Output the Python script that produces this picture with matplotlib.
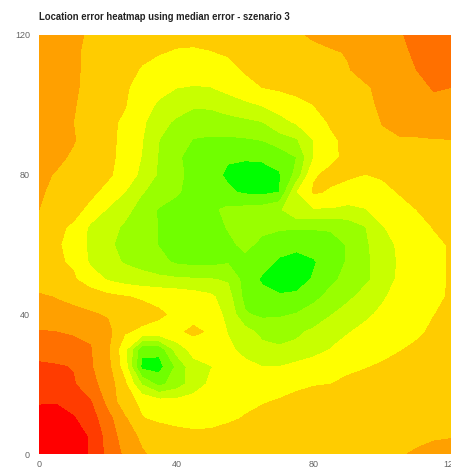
"""Location error heatmap (median error), szenario 3."""
import numpy as np
import matplotlib
matplotlib.use("Agg")
import matplotlib.pyplot as plt

plt.rcParams["font.family"] = ["Liberation Sans", "DejaVu Sans"]

TITLE = "Location error heatmap using median error - szenario 3"
TICKS = [0, 40, 80, 120]

# grid positions of the error values, one row per y, top row first
GRID_X = list(range(0, 125, 5))
GRID_Y = list(range(120, -5, -5))

ROW_120 = [6.5,6.4,6.15,5.9,5.7,5.6,5.5,5.4,5.3,5.3,5.35,5.45,5.5,5.6,5.75,5.9,6.1,6.3,6.5,6.6,6.75,6.95,7.15,7.35,7.45]
ROW_115 = [6.5,6.4,6.1,5.85,5.65,5.5,5.25,5.05,4.9,4.85,4.95,5.1,5.25,5.4,5.55,5.7,5.8,5.9,6.05,6.35,6.6,6.85,7.1,7.35,7.5]
ROW_110 = [6.5,6.4,6.1,5.85,5.6,5.35,4.9,4.6,4.45,4.4,4.45,4.65,5.1,5.25,5.4,5.55,5.7,5.8,5.95,6.25,6.5,6.8,7.0,7.3,7.5]
ROW_105 = [6.45,6.4,6.1,5.8,5.5,5.1,4.7,4.3,4.02,3.95,3.98,4.3,4.6,5.0,5.15,5.3,5.45,5.6,5.75,5.9,6.2,6.5,6.8,7.05,7.0]
ROW_100 = [6.4,6.35,6.05,5.75,5.4,5.05,4.4,3.85,3.4,3.1,3.15,3.5,3.8,4.05,4.35,4.7,5.0,5.25,5.6,5.85,6.1,6.4,6.7,6.85,6.85]
ROW_95 = [6.35,6.3,6.0,5.7,5.2,4.85,4.2,3.3,2.85,2.6,2.55,2.6,2.75,2.95,3.7,4.1,4.6,5.1,5.35,5.7,6.02,6.3,6.5,6.7,6.7]
ROW_90 = [6.3,6.25,6.05,5.65,5.2,4.8,4.05,3.0,2.5,1.95,1.85,1.85,1.9,2.03,2.5,2.9,4.0,4.85,5.2,5.6,5.9,5.92,5.9,5.95,5.98]
ROW_85 = [6.25,6.15,5.9,5.6,5.2,4.75,3.95,2.9,2.15,1.65,1.35,1.1,1.1,1.15,1.4,2.0,4.0,4.8,5.2,5.45,5.6,5.65,5.6,5.6,5.6]
ROW_80 = [6.15,5.95,5.75,5.5,5.15,4.6,3.75,2.85,2.2,1.75,1.3,0.85,0.6,0.6,0.9,2.3,4.9,5.2,5.15,4.98,5.1,5.3,5.35,5.4,5.4]
ROW_75 = [6.05,5.9,5.6,5.2,4.7,4.0,3.05,2.65,2.1,1.7,1.45,1.15,0.85,0.75,1.0,3.95,5.1,4.9,4.6,4.55,4.75,5.05,5.2,5.3,5.3]
ROW_70 = [6.0,5.7,5.3,4.75,3.9,3.3,2.6,1.9,1.7,1.6,1.8,2.2,2.3,2.4,2.8,3.95,3.9,3.9,3.75,3.95,4.35,4.7,5.0,5.2,5.3]
ROW_65 = [5.6,5.2,4.85,3.8,3.35,2.85,2.4,1.95,1.6,1.45,1.6,2.05,2.2,2.2,2.15,2.1,2.1,2.1,2.4,2.95,3.95,4.3,4.6,5.05,5.2]
ROW_60 = [5.4,5.15,4.6,3.8,3.15,2.75,2.35,1.95,1.55,1.35,1.4,1.8,2.2,1.8,1.4,1.25,1.4,1.7,2.05,2.85,3.5,4.2,4.45,4.75,5.1]
ROW_55 = [5.3,5.1,4.9,3.85,3.35,2.9,2.6,2.25,1.85,1.7,1.7,1.9,1.75,1.4,0.85,0.65,0.9,1.5,2.1,2.75,3.5,4.1,4.4,4.7,5.1]
ROW_50 = [5.4,5.3,5.1,4.5,3.9,3.6,3.4,3.25,3.15,3.1,3.05,2.9,1.6,0.85,0.55,0.55,1.1,1.75,2.35,2.8,3.4,4.2,4.4,4.7,5.1]
ROW_45 = [6.15,5.95,5.75,5.5,5.25,5.05,4.9,4.8,4.7,4.5,4.2,3.4,1.7,1.35,1.1,1.2,1.7,2.35,2.8,3.35,3.9,4.3,4.55,4.8,5.1]
ROW_40 = [6.5,6.35,6.25,6.1,5.9,5.6,5.35,5.1,4.85,4.65,4.4,3.8,2.1,1.8,1.85,2.05,2.5,2.95,3.4,3.85,4.15,4.4,4.7,4.98,5.2]
ROW_35 = [7.05,7.0,6.9,6.85,6.3,5.1,4.8,4.75,4.8,5.2,4.85,3.95,3.4,2.7,2.7,2.85,3.15,3.55,3.95,4.2,4.4,4.6,4.85,5.15,5.3]
ROW_30 = [7.5,7.4,7.3,7.05,6.15,4.3,1.3,1.3,3.4,4.35,4.6,4.2,3.7,3.3,3.1,3.2,3.55,4.03,4.3,4.55,4.75,4.95,5.15,5.4,5.5]
ROW_25 = [8.2,8.1,7.95,7.1,6.3,4.5,0.7,0.6,2.15,3.65,3.95,4.3,4.25,4.0,4.0,4.3,4.55,4.7,4.8,4.95,5.1,5.25,5.4,5.55,5.6]
ROW_20 = [8.4,8.3,8.1,7.3,6.55,5.2,2.9,1.7,2.5,3.45,4.2,4.45,4.55,4.6,4.75,4.85,4.95,5.0,5.2,5.3,5.4,5.5,5.6,5.7,5.75]
ROW_15 = [8.9,8.95,8.6,8.05,6.7,5.35,4.8,4.4,4.3,4.45,4.65,4.75,4.85,4.95,5.05,5.2,5.35,5.45,5.5,5.55,5.6,5.65,5.7,5.75,5.8]
ROW_10 = [9.4,9.3,9.1,8.45,7.35,6.15,5.05,4.85,4.75,4.7,4.75,4.9,5.05,5.2,5.3,5.45,5.5,5.6,5.65,5.7,5.75,5.8,5.85,5.9,5.92]
ROW_5 = [9.7,9.6,9.4,8.9,7.6,6.5,5.8,5.5,5.3,5.2,5.2,5.3,5.4,5.5,5.55,5.6,5.65,5.7,5.75,5.8,5.85,5.88,5.9,5.93,5.96]
ROW_0 = [9.8,9.7,9.5,8.9,7.7,6.8,6.1,5.7,5.5,5.4,5.4,5.45,5.5,5.55,5.6,5.65,5.7,5.75,5.8,5.85,5.9,5.96,6.05,6.2,6.3]

LEVELS = list(range(0, 11))
COLORS = ["#00FF00", "#70FF00", "#99FF00", "#C8FF00", "#FFFF00",
          "#FFCC00", "#FFA000", "#FF7000", "#FF3C00", "#FF0000"]

W, H = 451, 473
AX_LEFT, AX_RIGHT, AX_TOP, AX_BOTTOM = 39, 451, 35, 454

errors = np.array([ROW_120, ROW_115, ROW_110, ROW_105, ROW_100, ROW_95, ROW_90,
                   ROW_85, ROW_80, ROW_75, ROW_70, ROW_65, ROW_60, ROW_55,
                   ROW_50, ROW_45, ROW_40, ROW_35, ROW_30, ROW_25, ROW_20,
                   ROW_15, ROW_10, ROW_5, ROW_0])

fig = plt.figure(figsize=(W / 100, H / 100), dpi=100)
ax = fig.add_axes([AX_LEFT / W, 1 - AX_BOTTOM / H,
                   (AX_RIGHT - AX_LEFT) / W, (AX_BOTTOM - AX_TOP) / H])
ax.contourf(GRID_X, GRID_Y, errors, levels=LEVELS, colors=COLORS)

ax.set_xlim(0, 120)
ax.set_ylim(0, 120)
ax.set_xticks(TICKS)
ax.set_yticks(TICKS)
ax.tick_params(length=0, labelsize=6.5, labelcolor="#666666")
ax.tick_params(axis="x", pad=4)
ax.tick_params(axis="y", pad=6.5)
for side in ax.spines.values():
    side.set_visible(False)

fig.text(AX_LEFT / W, 1 - 17 / H, TITLE, fontsize=6.85, fontweight="bold",
         color="#222222", va="center", ha="left")

fig.savefig("out.png", dpi=100)
